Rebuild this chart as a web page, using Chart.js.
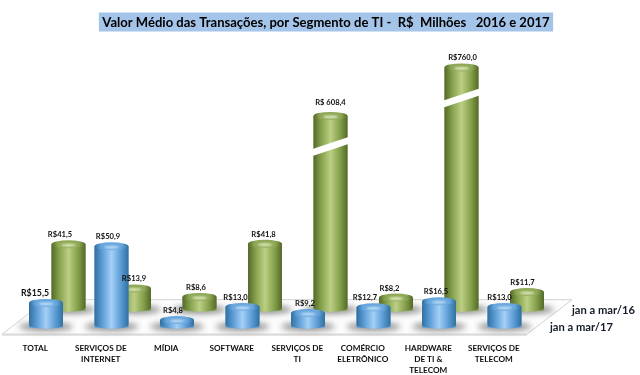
<!DOCTYPE html>
<html lang="pt-BR">
<head>
<meta charset="utf-8">
<title>Valor Médio das Transações</title>
<script src="https://cdn.jsdelivr.net/npm/chart.js@4/dist/chart.umd.js"></script>
<style>
  html, body { margin: 0; padding: 0; background: #fff; }
  canvas { display: block; }
</style>
</head>
<body>
<canvas id="graficoSegmentos" width="640" height="375"></canvas>
<script>
const titulo = 'Valor Médio das Transações, por Segmento de TI -  R$  Milhões   2016 e 2017';
const categorias = [
    ['TOTAL'],
    ['SERVIÇOS DE', 'INTERNET'],
    ['MÍDIA'],
    ['SOFTWARE'],
    ['SERVIÇOS DE', 'TI'],
    ['COMÉRCIO', 'ELETRÔNICO'],
    ['HARDWARE', 'DE TI &', 'TELECOM'],
    ['SERVIÇOS DE', 'TELECOM']
];
const serie2017 = [15.5, 50.9, 4.8, 13.0, 9.2, 12.7, 16.5, 13.0];
const serie2016 = [41.5, 13.9, 8.6, 41.8, 608.4, 8.2, 760.0, 11.7];

// O eixo do original é quebrado: o trecho 60-300 some e acima dele a escala encolhe
const inicioQuebra = 60;
const fimQuebra = 300;
const fatorAcimaQuebra = 0.2;

// Ajuste horizontal dos rótulos de valor em relação ao centro da barra
const ajusteRotulos2017 = [-11, -3.5, -4, -7, -3, -8.5, -3, -5];
const ajusteRotulos2016 = [-8.5, 0, -3.5, -1.5, 0, -6.5, 1, -4.5];

const paletaAzul = { borda: '#30709f', meio: '#5b9bd5', luz: '#a3d0f6', tampa: '#68a6dd', brilho: '#c0e1f9' };
const paletaVerde = { borda: '#55692a', meio: '#84a04a', luz: '#bccf85', tampa: '#8fa856', brilho: '#e2ebc0' };

function comprimir(v) {
    if (v <= inicioQuebra) return v;
    return inicioQuebra + (v - fimQuebra) * fatorAcimaQuebra;
}

class EixoQuebrado extends Chart.LinearScale {
    static id = 'eixoQuebrado';
    static defaults = Chart.LinearScale.defaults;
    getPixelForValue(valor) {
        return super.getPixelForValue(comprimir(valor)) - (this.options.profundidade || 0);
    }
}
Chart.register(EixoQuebrado);

function formatarValor(v) {
    const texto = v.toFixed(1).replace('.', ',');
    return v === 608.4 ? 'R$ ' + texto : 'R$' + texto;
}

function elipse(ctx, x, y, rx, ry) {
    ctx.beginPath();
    ctx.ellipse(x, y, rx, ry, 0, 0, Math.PI * 2);
}

function desenharCilindro(ctx, bar, paleta) {
    const ry = 4;
    const esq = bar.x - bar.width / 2;
    const dir = bar.x + bar.width / 2;
    const fundo = bar.base - 3;

    const grad = ctx.createLinearGradient(esq, 0, dir, 0);
    grad.addColorStop(0, paleta.borda);
    grad.addColorStop(0.22, paleta.meio);
    grad.addColorStop(0.5, paleta.luz);
    grad.addColorStop(0.78, paleta.meio);
    grad.addColorStop(1, paleta.borda);

    ctx.beginPath();
    ctx.moveTo(esq, bar.y);
    ctx.lineTo(esq, fundo);
    ctx.ellipse(bar.x, fundo, bar.width / 2, ry, 0, Math.PI, 0, true);
    ctx.lineTo(dir, bar.y);
    ctx.closePath();
    ctx.fillStyle = grad;
    ctx.fill();

    // tampa com brilho no centro, sem borda marcada
    const gradTampa = ctx.createLinearGradient(esq, 0, dir, 0);
    gradTampa.addColorStop(0, paleta.borda);
    gradTampa.addColorStop(0.2, paleta.tampa);
    gradTampa.addColorStop(0.8, paleta.tampa);
    gradTampa.addColorStop(1, paleta.borda);
    elipse(ctx, bar.x, bar.y, bar.width / 2, ry);
    ctx.fillStyle = gradTampa;
    ctx.fill();
    ctx.save();
    ctx.filter = 'blur(1px)';
    elipse(ctx, bar.x, bar.y + 1, bar.width * 0.22, 1.5);
    ctx.fillStyle = paleta.brilho;
    ctx.fill();
    ctx.restore();
}

function desenharQuebra(ctx, bar) {
    const centro = bar.y + 30;
    const meio = bar.width / 2 + 1;
    ctx.beginPath();
    ctx.moveTo(bar.x - meio, centro + 3);
    ctx.lineTo(bar.x + meio, centro - 9);
    ctx.lineTo(bar.x + meio, centro - 2);
    ctx.lineTo(bar.x - meio, centro + 10);
    ctx.closePath();
    ctx.fillStyle = '#fff';
    ctx.fill();
}

const pluginCilindros = {
    id: 'cilindros',
    beforeDraw(chart) {
        const ctx = chart.ctx;
        const bloco = chart.titleBlock;
        ctx.save();
        ctx.font = bloco.options.font.weight + ' ' + bloco.options.font.size + 'px ' + bloco.options.font.family;
        const largura = ctx.measureText(titulo).width;
        const cx = (bloco.left + bloco.right) / 2;
        ctx.fillStyle = '#a4c4e9';
        ctx.fillRect(cx - largura / 2 - 3.5, 12.5, largura + 7, 19);
        ctx.restore();
    },
    afterLayout(chart) {
        // o título do original não fica centrado na página
        chart.titleBlock.left += 39.5;
        chart.titleBlock.right += 39.5;
    },
    beforeDatasetsDraw(chart) {
        const { ctx, chartArea, scales } = chart;
        const zero = scales.y.getPixelForValue(0);
        const frente = zero + 6.5;
        const tras = zero - 28;
        const esq = chartArea.left - 22.5;
        const dir = chartArea.right - 21.5;
        ctx.save();
        ctx.beginPath();
        ctx.moveTo(esq, frente);
        ctx.lineTo(esq + 45, tras);
        ctx.lineTo(dir + 45, tras);
        ctx.lineTo(dir, frente);
        ctx.closePath();
        ctx.fillStyle = '#fdfdfd';
        ctx.fill();
        ctx.strokeStyle = '#d2d2d2';
        ctx.lineWidth = 1;
        ctx.stroke();
        ctx.beginPath();
        ctx.moveTo(esq, frente + 0.5);
        ctx.lineTo(dir, frente + 0.5);
        ctx.lineWidth = 2;
        ctx.strokeStyle = '#dcdcdc';
        ctx.stroke();
        ctx.restore();
    },
    beforeDatasetDraw(chart, args) {
        const ctx = chart.ctx;
        const meta = chart.getDatasetMeta(args.index);
        ctx.save();
        ctx.filter = 'blur(3px)';
        ctx.fillStyle = 'rgba(90,90,90,0.7)';
        meta.data.forEach(bar => {
            elipse(ctx, bar.x, bar.base - 1, bar.width / 2 + 10, 4);
            ctx.fill();
        });
        ctx.restore();
    },
    afterDatasetDraw(chart, args) {
        const ctx = chart.ctx;
        const dataset = chart.data.datasets[args.index];
        const meta = chart.getDatasetMeta(args.index);
        meta.data.forEach((bar, i) => {
            desenharCilindro(ctx, bar, dataset.paleta);
            if (dataset.data[i] > fimQuebra) desenharQuebra(ctx, bar);
        });
    },
    afterDatasetsDraw(chart) {
        const ctx = chart.ctx;
        ctx.save();
        ctx.textAlign = 'center';
        ctx.textBaseline = 'middle';
        ctx.fillStyle = '#111';
        chart.data.datasets.forEach((dataset, d) => {
            chart.getDatasetMeta(d).data.forEach((bar, i) => {
                const v = dataset.data[i];
                const destaque = d === 0 && i === 0;
                ctx.font = (destaque ? 'bold 8.8px' : 'bold 7.6px') + ' Lato';
                const sobe = v === 608.4 ? 13 : 9.5;
                ctx.fillText(formatarValor(v), bar.x + dataset.ajuste[i], bar.y - sobe);
            });
        });
        // nomes das séries ao lado do piso, como no eixo de profundidade
        const zero = chart.scales.y.getPixelForValue(0);
        ctx.font = 'bold 11.2px Lato';
        ctx.textAlign = 'left';
        ctx.fillStyle = '#141c28';
        ctx.fillText(chart.data.datasets[0].label, 550, zero - 0.5);
        ctx.fillText(chart.data.datasets[1].label, 572, zero - 17.5);
        ctx.restore();
    }
};

new Chart(document.getElementById('graficoSegmentos'), {
    type: 'bar',
    data: {
        labels: categorias,
        datasets: [
            {
                label: 'jan a mar/17',
                data: serie2017,
                yAxisID: 'y',
                backgroundColor: paletaAzul.meio,
                paleta: paletaAzul,
                ajuste: ajusteRotulos2017
            },
            {
                label: 'jan a mar/16',
                data: serie2016,
                yAxisID: 'y2',
                backgroundColor: paletaVerde.meio,
                paleta: paletaVerde,
                ajuste: ajusteRotulos2016
            }
        ]
    },
    options: {
        responsive: false,
        animation: false,
        categoryPercentage: 0.687,
        barPercentage: 1.51,
        layout: { padding: { left: 24.5, right: 91.5, top: 0, bottom: 0 } },
        plugins: {
            legend: { display: false },
            tooltip: { enabled: false },
            title: {
                display: true,
                text: titulo,
                color: '#000',
                font: { family: 'Lato', size: 13.05, weight: 'bold', lineHeight: 1.2 },
                padding: { top: 15, bottom: 8.9 }
            }
        },
        scales: {
            x: {
                grid: { display: false },
                border: { display: false },
                afterFit(scale) { scale.height = 47.3; },
                ticks: {
                    autoSkip: false,
                    maxRotation: 0,
                    minRotation: 0,
                    padding: 7,
                    labelOffset: -22,
                    color: '#0d0d0d',
                    font: { family: 'Lato', size: 8.2, weight: 'bold', lineHeight: 1.34 }
                }
            },
            y: { type: 'eixoQuebrado', display: false, min: 0, max: 180 },
            y2: { type: 'eixoQuebrado', display: false, min: 0, max: 180, profundidade: 17 }
        }
    },
    plugins: [pluginCilindros]
});
</script>
</body>
</html>
